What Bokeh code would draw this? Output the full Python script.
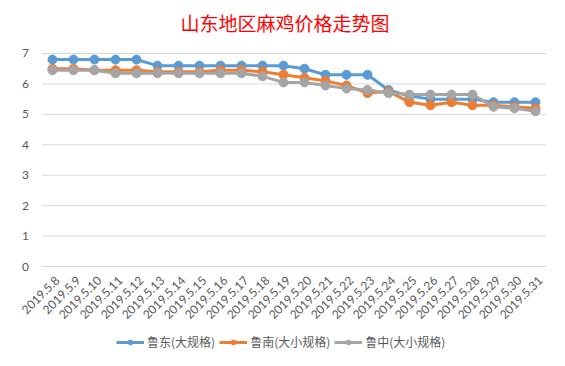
from bokeh.plotting import figure
from bokeh.models import Legend, LegendItem, Range1d, FixedTicker, ColumnDataSource
from bokeh.core.properties import value
from bokeh.embed import file_html
from bokeh.resources import INLINE
import math

title_text = "山东地区麻鸡价格走势图"
dates = ["2019.5.8", "2019.5.9", "2019.5.10", "2019.5.11", "2019.5.12", "2019.5.13",
         "2019.5.14", "2019.5.15", "2019.5.16", "2019.5.17", "2019.5.18", "2019.5.19",
         "2019.5.20", "2019.5.21", "2019.5.22", "2019.5.23", "2019.5.24", "2019.5.25",
         "2019.5.26", "2019.5.27", "2019.5.28", "2019.5.29", "2019.5.30", "2019.5.31"]
ludong = [6.8, 6.8, 6.8, 6.8, 6.8, 6.6, 6.6, 6.6, 6.6, 6.6, 6.6, 6.6,
          6.5, 6.3, 6.3, 6.3, 5.8, 5.6, 5.5, 5.5, 5.5, 5.4, 5.4, 5.4]
lunan = [6.5, 6.5, 6.45, 6.45, 6.45, 6.4, 6.4, 6.4, 6.45, 6.45, 6.4, 6.3,
         6.2, 6.1, 5.95, 5.7, 5.75, 5.4, 5.3, 5.4, 5.3, 5.3, 5.25, 5.2]
luzhong = [6.45, 6.45, 6.45, 6.35, 6.35, 6.35, 6.35, 6.35, 6.35, 6.35, 6.25, 6.05,
           6.05, 5.95, 5.85, 5.8, 5.7, 5.65, 5.65, 5.65, 5.65, 5.25, 5.2, 5.1]
series_names = ["鲁东(大规格)", "鲁南(大小规格)", "鲁中(大小规格)"]
colors = ["#5B9BD5", "#ED7D31", "#A5A5A5"]
yticks = [0, 1, 2, 3, 4, 5, 6, 7]

n = len(dates)
xs = list(range(n))  # category slots

# The frame covers title, plot, rotated date labels and legend so nothing is clipped
p = figure(x_range=Range1d(-1.619, 23.524), y_range=Range1d(-3.023, 8.61),
           frame_width=528, frame_height=354,
           output_backend="svg", toolbar_location=None, x_axis_location=None,
           min_border_left=18, min_border_right=4, min_border_top=4, min_border_bottom=4)
p.outline_line_color = None
p.background_fill_color = "white"
p.border_fill_color = "white"
p.xgrid.grid_line_color = None
p.ygrid.grid_line_color = None

# horizontal gridlines across the category span only
p.segment(x0=[-0.5] * len(yticks), x1=[n - 0.5] * len(yticks), y0=yticks, y1=yticks,
          line_color="#D9D9D9", line_width=1)

items = []
for name, vals, c in zip(series_names, [ludong, lunan, luzhong], colors):
    l = p.line(xs, vals, line_color=c, line_width=3)
    s = p.scatter(xs, vals, size=9, fill_color=c, line_color=c)
    items.append(LegendItem(label=name, renderers=[l, s]))

# title
p.text(x=[(n - 1) / 2], y=[max(yticks)], text=[title_text], x_offset=-9, y_offset=-31,
       text_align="center", text_baseline="middle", text_color="#FF0000",
       text_font=value("Noto Sans CJK SC"), text_font_size="19px")

# category (date) labels, rotated 45 degrees under the zero line
lab_src = ColumnDataSource(dict(x=xs, y=[min(yticks)] * n, t=dates))
p.text(x="x", y="y", text="t", source=lab_src, angle=math.pi / 4,
       text_align="right", text_baseline="middle", x_offset=5, y_offset=12,
       text_font=value("Lato"), text_font_size="12px", text_color="#595959")

legend = Legend(items=items, orientation="horizontal", location=(98, 8),
                label_text_font="Noto Sans CJK SC", label_text_font_size="12px",
                label_text_color="#595959", glyph_width=28, glyph_height=12,
                spacing=4, label_standoff=3, padding=0, margin=0,
                border_line_color=None, background_fill_alpha=0)
p.add_layout(legend, "center")

p.yaxis.ticker = FixedTicker(ticks=yticks)
p.yaxis.fixed_location = -0.5
p.yaxis.axis_line_color = None
p.yaxis.major_tick_line_color = None
p.yaxis.minor_tick_line_color = None
p.yaxis.major_label_text_font = "Lato"
p.yaxis.major_label_text_font_size = "12px"
p.yaxis.major_label_text_color = "#595959"
p.yaxis.major_label_standoff = 7

open("out.html", "w").write(file_html(p, INLINE))
